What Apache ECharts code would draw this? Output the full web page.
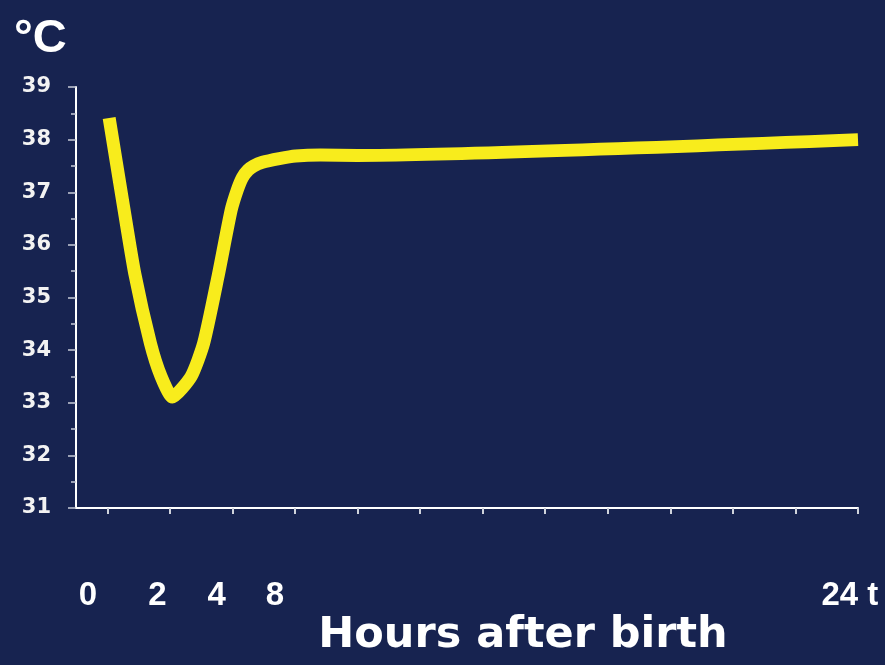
<!DOCTYPE html>
<html>
<head>
<meta charset="utf-8">
<script src="https://cdn.jsdelivr.net/npm/echarts@6/dist/echarts.min.js"></script>
<style>
html,body{margin:0;padding:0;background:#172350;}
#chart{width:885px;height:665px;}
</style>
</head>
<body>
<div id="chart"></div>
<script>
// x in tick-index units (tick 0 = first tick after y-axis), y in °C
const curveX = [0.03, 0.25, 0.44, 0.69, 0.86, 1.04, 1.34, 1.54, 1.77, 1.98, 2.08, 2.16, 2.25, 2.34, 2.48, 2.75, 3.01, 3.41, 4.0, 12];
const curveY = [38.41, 36.80, 35.45, 34.13, 33.50, 33.11, 33.50, 34.13, 35.40, 36.66, 37.05, 37.28, 37.42, 37.50, 37.57, 37.64, 37.69, 37.71, 37.70, 38.0];
const tickPositions = [0, 1, 2, 3, 4, 5, 6, 7, 8, 9, 10, 11, 12];
const xLabelTexts = ['0', '2', '4', '8', '24 t'];
const xLabelPositions = [-0.31, 0.80, 1.75, 2.68, 11.87];
const yMin = 31, yMax = 39;
const yUnit = '°C';
const xTitle = 'Hours after birth';

const data = curveX.map((x, i) => [x, curveY[i]]);

const chart = echarts.init(document.getElementById('chart'));
chart.setOption({
  backgroundColor: '#172350',
  animation: false,
  title: {
    text: yUnit,
    left: 9,
    top: 11,
    textStyle: { color: '#ffffff', fontFamily: 'Liberation Sans', fontWeight: 'bold', fontSize: 47 }
  },
  grid: { left: 76, right: 27, top: 87, bottom: 157, containLabel: false },
  xAxis: [{
    type: 'value',
    min: -0.5,
    max: 12,
    axisLine: { show: true, onZero: false, lineStyle: { color: '#ffffff', width: 2 } },
    axisTick: { show: true, customValues: tickPositions, length: 6, lineStyle: { color: '#d0d3dc', width: 2 } },
    axisLabel: { show: false },
    splitLine: { show: false },
    name: xTitle,
    nameLocation: 'middle',
    nameGap: 106,
    nameTextStyle: { color: '#ffffff', fontFamily: 'DejaVu Sans', fontWeight: 'bold', fontSize: 43, padding: [0, 0, 0, 112] }
  }, {
    type: 'value',
    position: 'bottom',
    min: -0.5,
    max: 12,
    axisLine: { show: false, onZero: false },
    axisTick: { show: false },
    splitLine: { show: false },
    axisLabel: {
      show: true,
      customValues: xLabelPositions,
      margin: 71,
      color: '#ffffff',
      fontFamily: 'Liberation Sans',
      fontWeight: 'bold',
      fontSize: 33,
      formatter: function (v) {
        let best = 0, bd = Infinity;
        xLabelPositions.forEach((p, i) => { const d = Math.abs(p - v); if (d < bd) { bd = d; best = i; } });
        return xLabelTexts[best];
      }
    }
  }],
  yAxis: {
    type: 'value',
    min: yMin,
    max: yMax,
    interval: 1,
    axisLine: { show: true, onZero: false, lineStyle: { color: '#ffffff', width: 2 } },
    axisTick: { show: true, length: 8, lineStyle: { color: '#c8ccd6', width: 1.5 } },
    minorTick: { show: true, splitNumber: 2, length: 5, lineStyle: { color: '#c8ccd6', width: 1.5 } },
    splitLine: { show: false },
    axisLabel: { color: '#f2f2f2', fontFamily: 'DejaVu Sans', fontWeight: 'bold', fontSize: 21, margin: 25 }
  },
  series: [{
    type: 'line',
    xAxisIndex: 0,
    data: data,
    smooth: 0.2,
    showSymbol: false,
    lineStyle: { color: '#f8ec1c', width: 13, cap: 'butt', join: 'round' }
  }]
});
</script>
</body>
</html>
